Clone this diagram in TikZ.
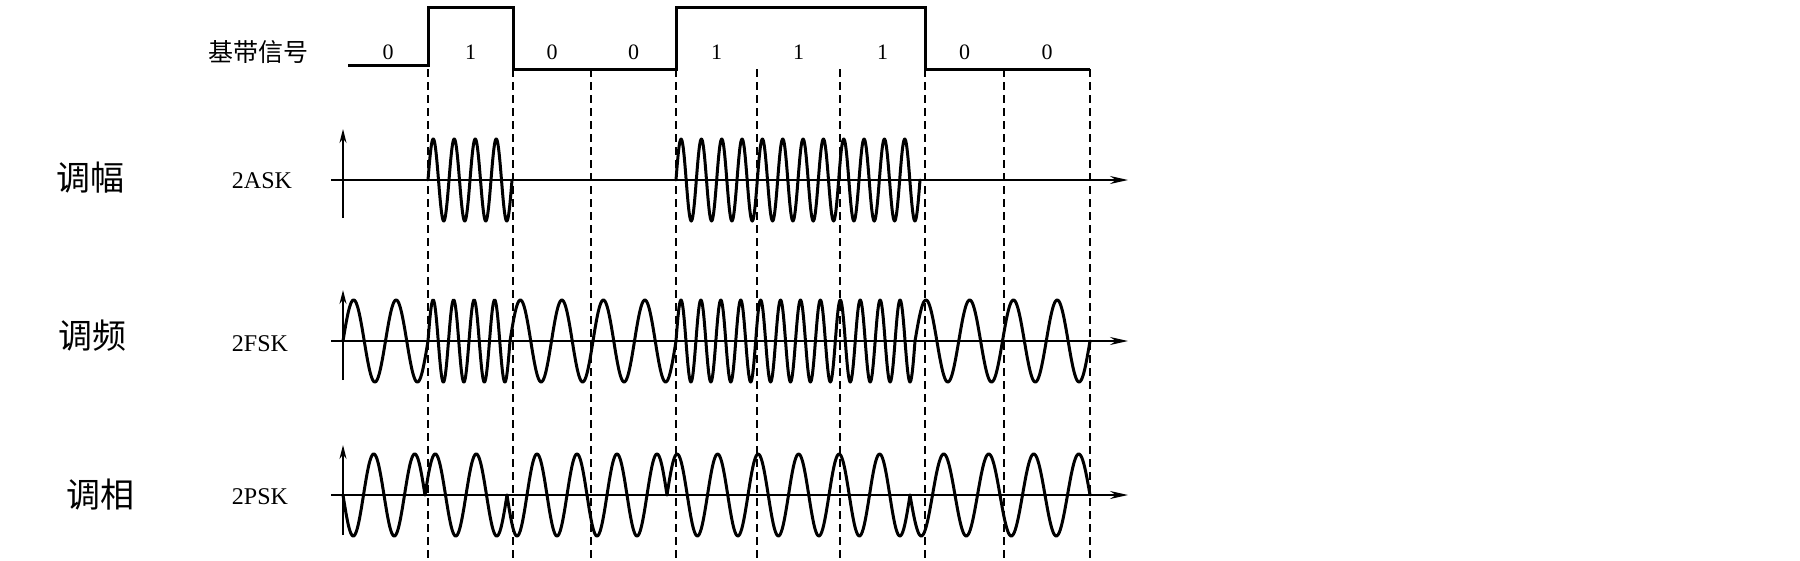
\documentclass[tikz,border=0pt]{standalone}
\usepackage{fontspec}
\setmainfont{Liberation Serif}
\newfontfamily\cjk{Noto Sans CJK SC}
\usetikzlibrary{arrows.meta}
\tikzset{
  wave/.style={line width=3pt, line join=round, line cap=round},
  haxis/.style={line width=1.6pt, -{Stealth[length=18pt,width=8pt]}},
  vaxis/.style={line width=1.6pt, -{Stealth[length=14pt,width=7pt]}},
  guide/.style={line width=1.8pt, dash pattern=on 8pt off 5pt},
  baseline/.style={line width=3pt, line join=miter},
  bitlab/.style={font=\fontsize{22}{22}\selectfont, inner sep=0pt},
  modlab/.style={font=\fontsize{24}{24}\selectfont, inner sep=0pt},
  cnlab/.style={font=\cjk\fontsize{34}{34}\selectfont, inner sep=0pt},
  bblab/.style={font=\cjk\fontsize{25}{25}\selectfont, inner sep=0pt},
}
% #1 axis y, #2 start x, #3 end x, #4 cycles, #5 sign
\newcommand{\wseg}[5]{\draw[wave] plot[domain=#2:#3, samples=241, smooth] (\x, {#1 - (#5)*41*sin((360*#4/(#3-#2))*(\x-#2))});}
\begin{document}
\begin{tikzpicture}[x=1pt, y=-1pt]
\useasboundingbox (0,0) rectangle (1800,560);
% guide lines
\foreach \gx [count=\i] in {428,513,591,676,757,840,925,1004,1090} {
  \coordinate (gt\i) at (\gx,69);
  \coordinate (gb\i) at (\gx,560);
  \draw[guide] (gt\i) -- (gb\i);
}
% baseband signal
\draw[baseline] (348,65) -- (428,65) -- (428,7) -- (513,7) -- (513,69) -- (676,69) -- (676,7) -- (925,7) -- (925,69) -- (1090,69);
\node[bblab] (bb) at (258,52) {基带信号};
\foreach \bx/\bv [count=\i] in {388/0,470.5/1,552/0,633.5/0,716.5/1,798.5/1,882.5/1,964.5/0,1047/0} {
  \node[bitlab] (bit\i) at (\bx,52) {\bv};
}
% row labels
\node[cnlab] (am) at (90,178) {调幅};
\node[cnlab] (fm) at (92,336) {调频};
\node[cnlab] (pm) at (100,495) {调相};
\node[modlab] (ask) at (262,181) {2ASK};
\node[modlab] (fsk) at (260,344) {2FSK};
\node[modlab] (psk) at (260,497) {2PSK};
% axes
\coordinate (askL) at (331,180); \coordinate (askR) at (1128,180);
\coordinate (askB) at (343,218); \coordinate (askT) at (343,129);
\coordinate (fskL) at (331,341); \coordinate (fskR) at (1128,341);
\coordinate (fskB) at (343,380); \coordinate (fskT) at (343,290);
\coordinate (pskL) at (331,495); \coordinate (pskR) at (1128,495);
\coordinate (pskB) at (343,535); \coordinate (pskT) at (343,445);
\draw[haxis] (askL) -- (askR);
\draw[vaxis] (askB) -- (askT);
\draw[haxis] (fskL) -- (fskR);
\draw[vaxis] (fskB) -- (fskT);
\draw[haxis] (pskL) -- (pskR);
\draw[vaxis] (pskB) -- (pskT);
% 2ASK
\wseg{180}{428}{512}{4}{1}
\wseg{180}{676}{920}{12}{1}
% 2FSK
\wseg{341}{343}{428}{2}{1}
\wseg{341}{428}{510}{4}{1}
\wseg{341}{510}{676}{4}{1}
\wseg{341}{676}{915}{12}{1}
\wseg{341}{915}{1090}{4}{1}
% 2PSK
\wseg{495}{343}{425}{2}{-1}
\wseg{495}{425}{507}{2}{1}
\wseg{495}{507}{667}{4}{-1}
\wseg{495}{667}{910}{6}{1}
\wseg{495}{910}{1090}{4}{-1}
\end{tikzpicture}
\end{document}
